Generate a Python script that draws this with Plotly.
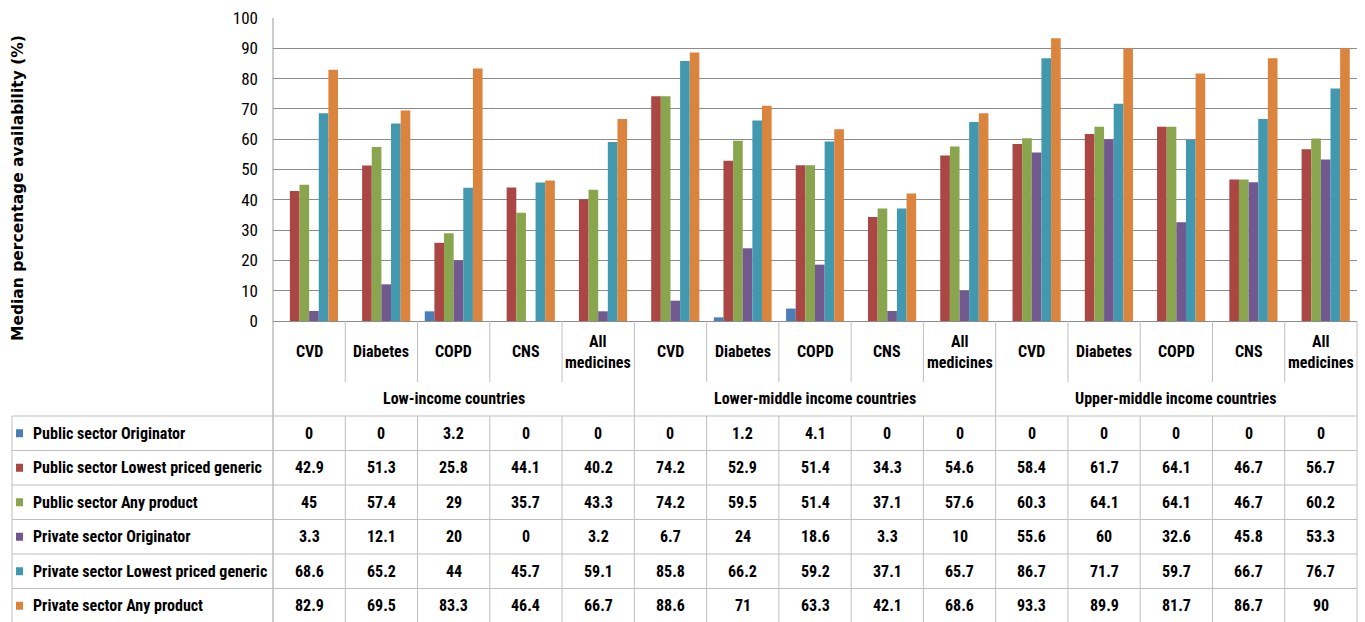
import plotly.graph_objects as go

W, H = 1365, 622

groups = ["Low-income countries", "Lower-middle income countries", "Upper-middle income countries"]
categories = ["CVD", "Diabetes", "COPD", "CNS", "All<br>medicines"]

series_names = [
    "Public sector Originator",
    "Public sector Lowest priced generic",
    "Public sector Any product",
    "Private sector Originator",
    "Private sector Lowest priced generic",
    "Private sector Any product",
]
series_colors = ["#4A7EBB", "#AA4643", "#89A54E", "#71588F", "#4198AF", "#DB843D"]

pub_originator = [0, 0, 3.2, 0, 0, 0, 1.2, 4.1, 0, 0, 0, 0, 0, 0, 0]
pub_lowest = [42.9, 51.3, 25.8, 44.1, 40.2, 74.2, 52.9, 51.4, 34.3, 54.6, 58.4, 61.7, 64.1, 46.7, 56.7]
pub_any = [45, 57.4, 29, 35.7, 43.3, 74.2, 59.5, 51.4, 37.1, 57.6, 60.3, 64.1, 64.1, 46.7, 60.2]
priv_originator = [3.3, 12.1, 20, 0, 3.2, 6.7, 24, 18.6, 3.3, 10, 55.6, 60, 32.6, 45.8, 53.3]
priv_lowest = [68.6, 65.2, 44, 45.7, 59.1, 85.8, 66.2, 59.2, 37.1, 65.7, 86.7, 71.7, 59.7, 66.7, 76.7]
priv_any = [82.9, 69.5, 83.3, 46.4, 66.7, 88.6, 71, 63.3, 42.1, 68.6, 93.3, 89.9, 81.7, 86.7, 90]

series_values = [pub_originator, pub_lowest, pub_any, priv_originator, priv_lowest, priv_any]

y_ticks = list(range(0, 101, 10))

# pixel layout of the plot area and the data table below it
X0, X1 = 273, 1357
Y100, Y0 = 18, 321
CAT_BOTTOM = 382
TABLE_TOP = 416
ROW_H = 34.5
TABLE_LEFT = 12

n_cat = len(groups) * len(categories)
col_w = (X1 - X0) / n_cat


def px(x):
    return x / W


def py(y):
    return 1 - y / H


NARROW = "Liberation Sans Narrow, Arial Narrow, Roboto Condensed, sans-serif"
TEXT = "#000000"
GRID = "#8C8C8C"
TABLE_LINE = "#BFBFBF"

fig = go.Figure()
xs = list(range(n_cat))
for name, color, vals in zip(series_names, series_colors, series_values):
    fig.add_trace(go.Bar(
        x=xs, y=vals, name=name,
        marker=dict(color=color, line=dict(width=0)),
        showlegend=False,
        hovertemplate=name + ": %{y}<extra></extra>",
    ))

shapes = []
annotations = []


def line(x0, y0, x1, y1, color=TABLE_LINE, width=1):
    shapes.append(dict(type="line", xref="paper", yref="paper",
                       x0=px(x0), y0=py(y0), x1=px(x1), y1=py(y1),
                       line=dict(color=color, width=width)))


# category row and group row separators
for k in range(1, n_cat):
    xk = X0 + k * col_w
    if k % len(categories) == 0:
        line(xk, Y0, xk, H + 2)
    else:
        line(xk, Y0, xk, CAT_BOTTOM)
        line(xk, TABLE_TOP, xk, H + 2)
line(X0, Y100, X0, H + 2, color="#9A9A9A")
line(X1, Y0, X1, H + 2)
line(TABLE_LEFT, TABLE_TOP, TABLE_LEFT, H + 2)

# table horizontal rules
for i in range(len(series_names)):
    line(TABLE_LEFT, TABLE_TOP + i * ROW_H, X1, TABLE_TOP + i * ROW_H)

# category labels
for k in range(n_cat):
    cx = X0 + (k + 0.5) * col_w
    annotations.append(dict(
        xref="paper", yref="paper", x=px(cx), y=py((Y0 + CAT_BOTTOM) / 2),
        text="<b>" + categories[k % len(categories)] + "</b>", showarrow=False,
        font=dict(family=NARROW, size=16, color=TEXT), align="center",
        xanchor="center", yanchor="middle"))

# group labels
for g, gname in enumerate(groups):
    cx = X0 + (g + 0.5) * len(categories) * col_w
    annotations.append(dict(
        xref="paper", yref="paper", x=px(cx), y=py((CAT_BOTTOM + TABLE_TOP) / 2 - 1),
        text="<b>" + gname + "</b>", showarrow=False,
        font=dict(family=NARROW, size=16, color=TEXT),
        xanchor="center", yanchor="middle"))

# data table rows: legend key, series name and values
for i, (name, color, vals) in enumerate(zip(series_names, series_colors, series_values)):
    cy = TABLE_TOP + (i + 0.5) * ROW_H
    shapes.append(dict(type="rect", xref="paper", yref="paper",
                       x0=px(16), x1=px(23), y0=py(cy - 4), y1=py(cy + 4),
                       fillcolor=color, line=dict(width=0)))
    annotations.append(dict(
        xref="paper", yref="paper", x=px(31), y=py(cy),
        text="<b>" + name + "</b>", showarrow=False,
        font=dict(family=NARROW, size=16, color=TEXT),
        xanchor="left", yanchor="middle"))
    for k, v in enumerate(vals):
        cx = X0 + (k + 0.5) * col_w
        annotations.append(dict(
            xref="paper", yref="paper", x=px(cx), y=py(cy),
            text="<b>" + f"{v:g}" + "</b>", showarrow=False,
            font=dict(family=NARROW, size=16, color=TEXT),
            xanchor="center", yanchor="middle"))

# y-axis title
annotations.append(dict(
    xref="paper", yref="paper", x=px(18), y=py(188),
    text="<b>Median percentage availability (%)</b>", textangle=-90, showarrow=False,
    font=dict(family="DejaVu Sans, Verdana, sans-serif", size=15.5, color=TEXT),
    xanchor="center", yanchor="middle"))

fig.update_layout(
    width=W, height=H,
    margin=dict(l=0, r=0, t=0, b=0, autoexpand=False),
    paper_bgcolor="white", plot_bgcolor="white",
    barmode="group", bargap=0.2, bargroupgap=0,
    xaxis=dict(domain=[px(X0), px(X1)], range=[-0.5, n_cat - 0.5],
               showticklabels=False, showgrid=False, zeroline=False,
               showline=False, fixedrange=True, automargin=False),
    yaxis=dict(domain=[py(Y0), py(Y100)], range=[0, 100],
               tickmode="array", tickvals=y_ticks, ticktext=[str(t) for t in y_ticks],
               showgrid=True, gridcolor=GRID, gridwidth=1,
               zeroline=True, zerolinecolor=GRID, zerolinewidth=1,
               showline=False, ticks="", ticklabelstandoff=14,
               tickfont=dict(family=NARROW, size=17, color=TEXT),
               fixedrange=True, automargin=False),
    shapes=shapes,
    annotations=annotations,
)

fig.write_html("out.html")
